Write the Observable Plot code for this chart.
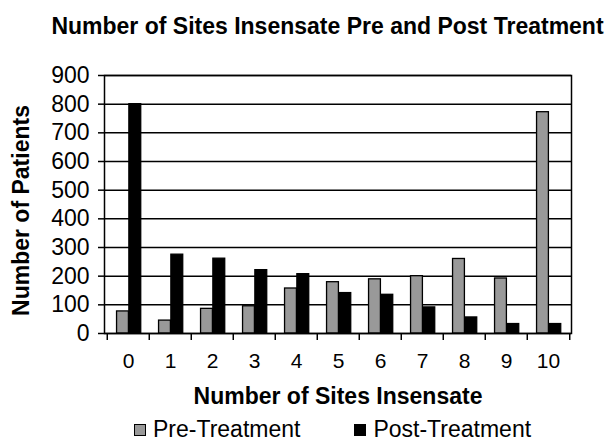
<!DOCTYPE html>
<html>
<head>
<meta charset="utf-8">
<script src="https://cdn.jsdelivr.net/npm/d3@7"></script>
<script src="https://cdn.jsdelivr.net/npm/@observablehq/plot@0.6"></script>
<style>
  html, body { margin: 0; padding: 0; background: #fff; }
  #wrap { position: relative; width: 609px; height: 442px; font-family: "Liberation Sans", Arial, sans-serif; color: #000; }
  #legend { position: absolute; left: 134px; top: 418px; display: flex; gap: 54px; font-size: 23px; line-height: 23px; }
  .item { display: flex; align-items: center; gap: 7px; }
  .sw { width: 10px; height: 10px; border: 1px solid #000; }
</style>
</head>
<body>
<div id="wrap"></div>
<script>
// ---- data ----
const categories = ["0", "1", "2", "3", "4", "5", "6", "7", "8", "9", "10"];
const preTreatment = [77, 45, 86, 95, 157, 179, 189, 200, 260, 192, 772];
const postTreatment = [800, 275, 261, 221, 207, 141, 135, 91, 56, 33, 33];
const yTicks = [0, 100, 200, 300, 400, 500, 600, 700, 800, 900];
const seriesNames = ["Pre-Treatment", "Post-Treatment"];
const seriesColors = ["#999999", "#000000"];
const titleText = "Number of Sites Insensate Pre and Post Treatment";
const xTitle = "Number of Sites Insensate";
const yTitle = "Number of Patients";

const preRows = categories.map((c, i) => ({cat: c, value: preTreatment[i]}));
const postRows = categories.map((c, i) => ({cat: c, value: postTreatment[i]}));

const W = 609, H = 442;
const mL = 104, mR = 38, mT = 75, mB = 109;
const bw = (W - mL - mR) / categories.length;
const font = "Liberation Sans, Arial, sans-serif";

const chart = Plot.plot({
  width: W,
  height: H,
  marginLeft: mL,
  marginRight: mR,
  marginTop: mT,
  marginBottom: mB,
  style: {fontFamily: font, color: "#000", background: "#fff", overflow: "visible"},
  x: {type: "band", domain: categories, padding: 0},
  y: {domain: [0, 900]},
  marks: [
    Plot.gridY(yTicks, {stroke: "#000", strokeOpacity: 1, strokeWidth: 1.5}),
    Plot.barY(preRows, {x: "cat", y: "value", fill: seriesColors[0], stroke: "#000", strokeWidth: 1.3,
      insetLeft: bw * 0.225, insetRight: bw * 0.485}),
    Plot.barY(postRows, {x: "cat", y: "value", fill: seriesColors[1], stroke: "#000", strokeWidth: 1.3,
      insetLeft: bw * 0.515, insetRight: bw * 0.195}),
    Plot.frame({stroke: "#000", strokeWidth: 1.5}),
    Plot.axisY({ticks: yTicks, tickSize: 6, tickPadding: 9, fontSize: 23, strokeWidth: 1.5, label: null}),
    Plot.axisX({tickSize: 0, tickPadding: 20, fontSize: 21, label: null}),
    Plot.axisX({ticks: categories, tickSize: 7, tickFormat: () => "", dx: -bw / 2, strokeWidth: 1.5, label: null}),
    Plot.axisX({ticks: categories.slice(-1), tickSize: 7, tickFormat: () => "", dx: bw / 2, strokeWidth: 1.5, label: null}),
    Plot.text([yTitle], {frameAnchor: "left", textAnchor: "middle", lineAnchor: "middle", rotate: -90,
      dx: -83, dy: 6, fontSize: 23, fontWeight: "bold"}),
    Plot.text([xTitle], {frameAnchor: "bottom", lineAnchor: "middle", dy: 63, fontSize: 23, fontWeight: "bold"}),
    Plot.text([titleText], {frameAnchor: "top", lineAnchor: "middle", dx: -10.5, dy: -49, fontSize: 23, fontWeight: "bold"})
  ]
});

const wrap = document.getElementById("wrap");
wrap.appendChild(chart);

const legend = document.createElement("div");
legend.id = "legend";
seriesNames.forEach((name, i) => {
  const item = document.createElement("div");
  item.className = "item";
  const sw = document.createElement("span");
  sw.className = "sw";
  sw.style.background = seriesColors[i];
  const label = document.createElement("span");
  label.textContent = name;
  item.appendChild(sw);
  item.appendChild(label);
  legend.appendChild(item);
});
wrap.appendChild(legend);
</script>
</body>
</html>
